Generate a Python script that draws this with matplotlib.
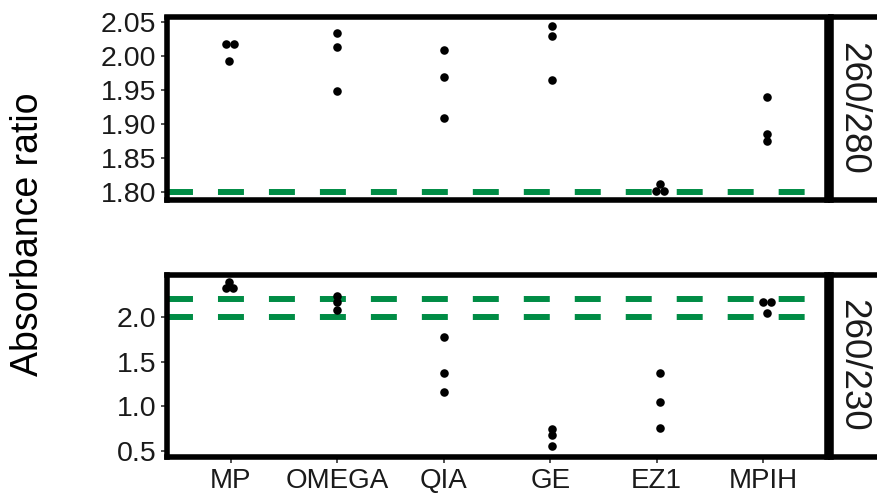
import matplotlib
matplotlib.use("Agg")
import matplotlib.pyplot as plt
import numpy as np

plt.rcParams['font.family'] = ['Liberation Sans', 'DejaVu Sans']
plt.rcParams['lines.scale_dashes'] = False

categories = ["MP", "OMEGA", "QIA", "GE", "EZ1", "MPIH"]

# 260/280 ratio (three replicates per kit)
r280_values = [
    [2.018, 2.018, 1.993],
    [2.034, 2.013, 1.949],
    [2.009, 1.969, 1.909],
    [2.044, 2.030, 1.964],
    [1.811, 1.801, 1.801],
    [1.940, 1.885, 1.875],
]
r280_jitter = [
    [-0.05, 0.025, -0.015],
    [0.0, 0.0, 0.0],
    [0.0, 0.0, 0.0],
    [0.015, 0.015, 0.015],
    [0.03, -0.01, 0.065],
    [0.035, 0.035, 0.035],
]
# 260/230 ratio
r230_values = [
    [2.39, 2.32, 2.32],
    [2.24, 2.17, 2.08],
    [1.78, 1.37, 1.16],
    [0.752, 0.686, 0.556],
    [1.37, 1.05, 0.76],
    [2.17, 2.17, 2.04],
]
r230_jitter = [
    [-0.015, -0.05, 0.02],
    [0.0, 0.0, 0.0],
    [0.0, 0.0, 0.0],
    [0.015, 0.015, 0.015],
    [0.03, 0.03, 0.03],
    [0.0, 0.07, 0.035],
]
r280_thresholds = [1.8]
r230_thresholds = [2.0, 2.2]
r280_ticks = [1.80, 1.85, 1.90, 1.95, 2.00, 2.05]
r230_ticks = [0.5, 1.0, 1.5, 2.0]
strip_labels = ["260/280", "260/230"]

W, H = 878, 495
fig = plt.figure(figsize=(W / 100, H / 100), dpi=100)

def box(l, t, r, b):
    return [l / W, 1 - b / H, (r - l) / W, (b - t) / H]

ax_top = fig.add_axes(box(167, 17.5, 827, 200))
ax_bot = fig.add_axes(box(167, 274.5, 827, 457))
strip_top = fig.add_axes(box(831, 17.5, 920, 200))
strip_bot = fig.add_axes(box(831, 274.5, 920, 457))

green = "#008c45"

def draw_panel(ax, values, jitter, thresholds, ticks, ylim, fmt):
    for th in thresholds:
        ax.axhline(th, color=green, lw=4.3, dashes=(18.7, 18), dash_capstyle='butt', zorder=1)
    for i, (vals, jit) in enumerate(zip(values, jitter)):
        xs = np.full(len(vals), i) + np.array(jit)
        ax.scatter(xs, vals, s=38, color='black', linewidths=0, zorder=3)
    ax.set_xlim(-0.6, len(categories) - 0.4)
    ax.set_ylim(*ylim)
    ax.set_yticks(ticks)
    ax.set_yticklabels([fmt.format(t) for t in ticks])
    ax.set_xticks(range(len(categories)))
    for sp in ax.spines.values():
        sp.set_linewidth(4.0)
        sp.set_color('black')
    ax.tick_params(axis='both', length=4, width=1.2, color='#333333',
                   labelsize=20.5, labelcolor='#1a1a1a', pad=3.5)
    ax.set_facecolor('white')

draw_panel(ax_top, r280_values, r280_jitter, r280_thresholds, r280_ticks,
           (1.7875, 2.057), "{:.2f}")
draw_panel(ax_bot, r230_values, r230_jitter, r230_thresholds, r230_ticks,
           (0.435, 2.475), "{:.1f}")
ax_top.tick_params(axis='x', bottom=False, labelbottom=False)
ax_bot.set_xticklabels(categories)
ax_bot.tick_params(axis='x', pad=4, labelsize=20)

for sax, lab in zip([strip_top, strip_bot], strip_labels):
    sax.set_xticks([])
    sax.set_yticks([])
    for sp in sax.spines.values():
        sp.set_linewidth(4.0)
        sp.set_color('black')
    sax.text(22 / 89, 0.5, lab, rotation=-90, ha='center', va='center',
             fontsize=26.5, color='#1a1a1a', transform=sax.transAxes)

fig.text(28 / W, 1 - 234 / H, "Absorbance ratio", rotation=90, ha='center',
         va='center', fontsize=27, color='black')

fig.savefig("out.png", dpi=100)
